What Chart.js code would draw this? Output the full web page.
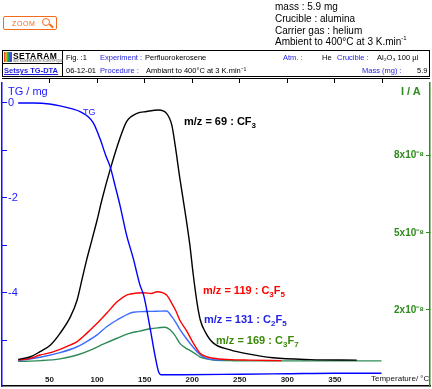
<!DOCTYPE html>
<html>
<head>
<meta charset="utf-8">
<script src="https://cdn.jsdelivr.net/npm/chart.js@4.4.0/dist/chart.umd.min.js"></script>
<style>
  body { margin: 0; background: #fff; font-family: "Liberation Sans", Arial, sans-serif; }
  #wrap { position: relative; width: 432px; height: 389px; overflow: hidden; }
  #chart { position: absolute; left: 0; top: 0; }
  .t { position: absolute; white-space: nowrap; line-height: 1; }
  .blue { color: #1f1fe0; }
  sub { font-size: 8px; vertical-align: -3px; line-height: 0; }
  .info { left: 275px; top: 1px; font-size: 10px; line-height: 11.8px; }
  .info sup { font-size: 6px; vertical-align: 5px; line-height: 0; }
  .zoom { position: absolute; left: 3px; top: 16px; width: 54px; height: 14px; box-sizing: border-box;
          border: 1.5px solid #f26a1b; border-radius: 2px; }
  .zoom span { position: absolute; left: 8px; top: 3px; font-size: 7px; color: #f26a1b; letter-spacing: 0.6px; }
  .lens { position: absolute; left: 38px; top: 1px; width: 6px; height: 6px; border: 1.3px solid #f26a1b; border-radius: 50%; }
  .handle { position: absolute; left: 45px; top: 8px; width: 5px; height: 1.5px; background: #f26a1b; transform: rotate(45deg); }
  .box { position: absolute; left: 2px; top: 50px; width: 428px; height: 27px; box-sizing: border-box; border: 1px solid #000; }
  .hd { font-size: 7.5px; }
  .ann { font-size: 11px; font-weight: bold; }
</style>
</head>
<body>
<div id="wrap">
  <canvas id="chart" width="432" height="389"></canvas>

  <div class="zoom"><span>ZOOM</span><div class="lens"></div><div class="handle"></div></div>
  <div class="t info">mass : 5.9 mg<br>Crucible : alumina<br>Carrier gas : helium<br>Ambient to 400°C at 3 K.min<sup>-1</sup></div>

  <div class="box"></div>
  <div style="position:absolute;left:2px;top:50px;width:61px;height:14px;border:1px solid #000;box-sizing:border-box;"></div>
  <div style="position:absolute;left:62px;top:50px;width:1px;height:27px;background:#000;"></div>
  <div style="position:absolute;left:4px;top:52px;width:8px;height:10px;background:linear-gradient(90deg,#e02020,#f0c020,#20b040,#2060e0,#a020c0);"></div>
  <div class="t" style="left:13px;top:52px;font-size:8.5px;font-weight:bold;letter-spacing:0.4px;">SETARAM</div>
  <div class="t" style="left:13px;top:60px;font-size:3px;color:#555;">INSTRUMENTATION SCIENTIFIQUE</div>
  <div class="t hd blue" style="left:4px;top:67px;font-weight:bold;text-decoration:underline;">Setsys TG-DTA</div>

  <div class="t hd" style="left:66px;top:54px;">Fig. :1</div>
  <div class="t hd blue" style="left:100px;top:54px;">Experiment :</div>
  <div class="t hd" style="left:145px;top:54px;">Perfluorokerosene</div>
  <div class="t hd blue" style="left:283px;top:54px;">Atm. :</div>
  <div class="t hd" style="left:322px;top:54px;">He</div>
  <div class="t hd blue" style="left:337px;top:54px;">Crucible :</div>
  <div class="t hd" style="left:377px;top:54px;">Al₂O₃ 100 µl</div>
  <div class="t hd" style="left:66px;top:67px;">06-12-01</div>
  <div class="t hd blue" style="left:100px;top:67px;">Procedure :</div>
  <div class="t hd" style="left:146px;top:67px;">Ambiant to 400°C at 3 K.min⁻¹</div>
  <div class="t hd blue" style="left:362px;top:67px;">Mass (mg) :</div>
  <div class="t hd" style="left:417px;top:67px;">5.9</div>
  <div style="position:absolute;left:2px;top:78px;width:428px;height:1px;background:#000;"></div>

  <div class="t" style="left:8px;top:86px;font-size:11px;color:#1a1aff;">TG / mg</div>
  <div class="t" style="left:401px;top:86px;font-size:11px;font-weight:bold;color:#2f8a1f;">I / A</div>
  <div class="t" style="left:83px;top:108px;font-size:9px;color:#1a1aff;">TG</div>
  <div class="t" style="left:371px;top:375px;font-size:8px;color:#111;">Temperature/ °C</div>

  <div class="t ann" style="left:184px;top:116px;color:#000;">m/z = 69 : CF<sub>3</sub></div>
  <div class="t ann" style="left:203px;top:285px;color:#f00;">m/z = 119 : C<sub>3</sub>F<sub>5</sub></div>
  <div class="t ann" style="left:204px;top:314px;color:#2424e6;">m/z = 131 : C<sub>2</sub>F<sub>5</sub></div>
  <div class="t ann" style="left:216px;top:335px;color:#3a8a0a;">m/z = 169 : C<sub>3</sub>F<sub>7</sub></div>
</div>

<script>
// axis ticks
const xTickValues = [50, 100, 150, 200, 250, 300, 350];
const xTopTickValues = [50, 100, 150, 200, 250, 300, 350, 400];
const tgTickValues = [-5, -4, -3, -2, -1, 0];
const tgLabelled = [0, -2, -4];
const ionTickValues = [2, 5, 8]; // x10^-8 A

// TG mass loss (mg) vs temperature (°C)
const tgTemp = [17, 33, 50, 61, 75, 82, 90, 96, 103, 109, 114, 119, 124, 131, 138, 145, 149, 156, 161, 164.5, 167, 190, 250, 300, 350, 399];
const tgMass = [0, 0, -0.02, -0.06, -0.13, -0.18, -0.28, -0.42, -0.75, -1.1, -1.36, -1.75, -2.15, -2.78, -3.27, -3.83, -4.05, -4.77, -5.33, -5.65, -5.72, -5.72, -5.71, -5.7, -5.69, -5.69];

// ion currents (x10^-8 A)
const temp69 = [17, 30, 40, 51, 61, 72, 79, 84, 89, 94.5, 100, 105, 114, 124, 131, 142, 152, 164.5, 173, 178.5, 182, 187, 192.5, 197.5, 201, 205, 208.5, 213.5, 222, 240, 257, 285, 324, 373];
const ion69 = [0.08, 0.18, 0.38, 0.64, 1.09, 1.74, 2.39, 3.17, 3.95, 4.72, 5.5, 6.28, 7.5, 8.68, 9.33, 9.65, 9.72, 9.78, 9.65, 9.2, 8.42, 7.12, 5.82, 4.53, 3.4, 2.3, 1.61, 1.16, 0.72, 0.45, 0.3, 0.14, 0.07, 0.05];

const temp119 = [17, 30, 40, 51, 61, 72, 79, 89, 100, 110, 121, 131, 135, 149, 157, 163, 173, 178.5, 183, 187, 194, 201, 208, 215, 222, 240, 260, 294];
const ion119 = [0.05, 0.12, 0.25, 0.34, 0.47, 0.64, 0.77, 1.09, 1.48, 1.87, 2.32, 2.58, 2.62, 2.67, 2.64, 2.71, 2.58, 2.26, 1.95, 1.6, 1.2, 0.72, 0.33, 0.18, 0.12, 0.07, 0.05, 0.03];

const temp131 = [17, 40, 61, 79, 89, 100, 110, 121, 134, 138, 150, 162, 173, 178.5, 183, 187, 194, 201, 208, 215, 222, 232];
const ion131 = [0.03, 0.16, 0.34, 0.57, 0.77, 1.03, 1.35, 1.61, 1.87, 1.91, 1.94, 1.95, 1.96, 1.74, 1.5, 1.25, 0.88, 0.55, 0.27, 0.12, 0.07, 0.05];

const temp169 = [17, 40, 61, 79, 93, 107, 121, 134, 145, 156, 165, 171.5, 177, 182, 187, 194, 198, 203, 208, 215, 222, 240, 261, 300, 350, 399];
const ion169 = [0, 0.03, 0.1, 0.25, 0.44, 0.68, 0.9, 1.09, 1.18, 1.27, 1.31, 1.33, 1.22, 1.0, 0.7, 0.5, 0.42, 0.3, 0.18, 0.1, 0.05, 0.03, 0.02, 0.02, 0.02, 0.02];

const pts = (xs, ys) => xs.map((x, i) => ({ x: x, y: ys[i] }));
const fam = '"Liberation Sans", Arial, sans-serif';

function line(data, color, axis) {
    return {
        data: data,
        yAxisID: axis,
        borderColor: color,
        borderWidth: 1.4,
        pointRadius: 0,
        fill: false,
        cubicInterpolationMode: 'monotone'
    };
}

// fixed scale sizes, no label overhang padding
const fitX = h => s => { s.height = h; s.paddingLeft = 0; s.paddingRight = 0; };
const fitY = w => s => { s.width = w; s.paddingTop = 0; s.paddingBottom = 0; };

new Chart(document.getElementById('chart').getContext('2d'), {
    type: 'line',
    data: {
        datasets: [
            line(pts(tgTemp, tgMass), '#0000ff', 'yTG'),
            line(pts(temp69, ion69), '#000000', 'yI'),
            line(pts(temp119, ion119), '#ff0000', 'yI'),
            line(pts(temp131, ion131), '#3a6cff', 'yI'),
            line(pts(temp169, ion169), '#2e8b57', 'yI')
        ]
    },
    options: {
        responsive: false,
        animation: false,
        layout: { padding: { top: 79, left: 0, right: 0, bottom: 0 } },
        plugins: { legend: { display: false }, tooltip: { enabled: false } },
        scales: {
            x: {
                type: 'linear', position: 'bottom', min: 0, max: 450,
                afterBuildTicks: s => { s.ticks = xTickValues.map(v => ({ value: v })); },
                afterFit: fitX(3),
                grid: { drawOnChartArea: false, drawTicks: false },
                border: { color: '#000', width: 1.5 },
                ticks: { mirror: true, padding: 1, maxRotation: 0, autoSkip: false,
                         font: { size: 8, weight: 'bold', family: fam }, color: '#1a1a1a' }
            },
            xTop: {
                type: 'linear', position: 'top', min: 0, max: 450,
                afterBuildTicks: s => { s.ticks = xTopTickValues.map(v => ({ value: v })); },
                afterFit: fitX(4),
                grid: { drawOnChartArea: false, tickLength: 4, color: '#000' },
                border: { display: false },
                ticks: { display: false }
            },
            yTG: {
                type: 'linear', position: 'left', min: -5.958, max: 0.421,
                afterBuildTicks: s => { s.ticks = tgTickValues.map(v => ({ value: v })); },
                afterFit: fitY(2),
                grid: { drawOnChartArea: false, tickLength: -5, color: '#1010ff' },
                border: { color: '#1010ff', width: 1.5 },
                ticks: { mirror: true, padding: 6, color: '#1a1aff', font: { size: 11, family: fam },
                         callback: v => tgLabelled.includes(v) ? String(v) : '' }
            },
            yI: {
                type: 'linear', position: 'right', min: -0.957, max: 10.83,
                afterBuildTicks: s => { s.ticks = ionTickValues.map(v => ({ value: v })); },
                afterFit: fitY(2),
                grid: { drawOnChartArea: false, tickLength: -4, color: '#2f8a1f' },
                border: { color: '#2f8a1f', width: 1.5 },
                ticks: { mirror: true, padding: -6, color: '#2f8a1f', font: { size: 10, weight: 'bold', family: fam },
                         callback: v => v + 'x10⁻⁸' }
            }
        }
    }
});
</script>
</body>
</html>
